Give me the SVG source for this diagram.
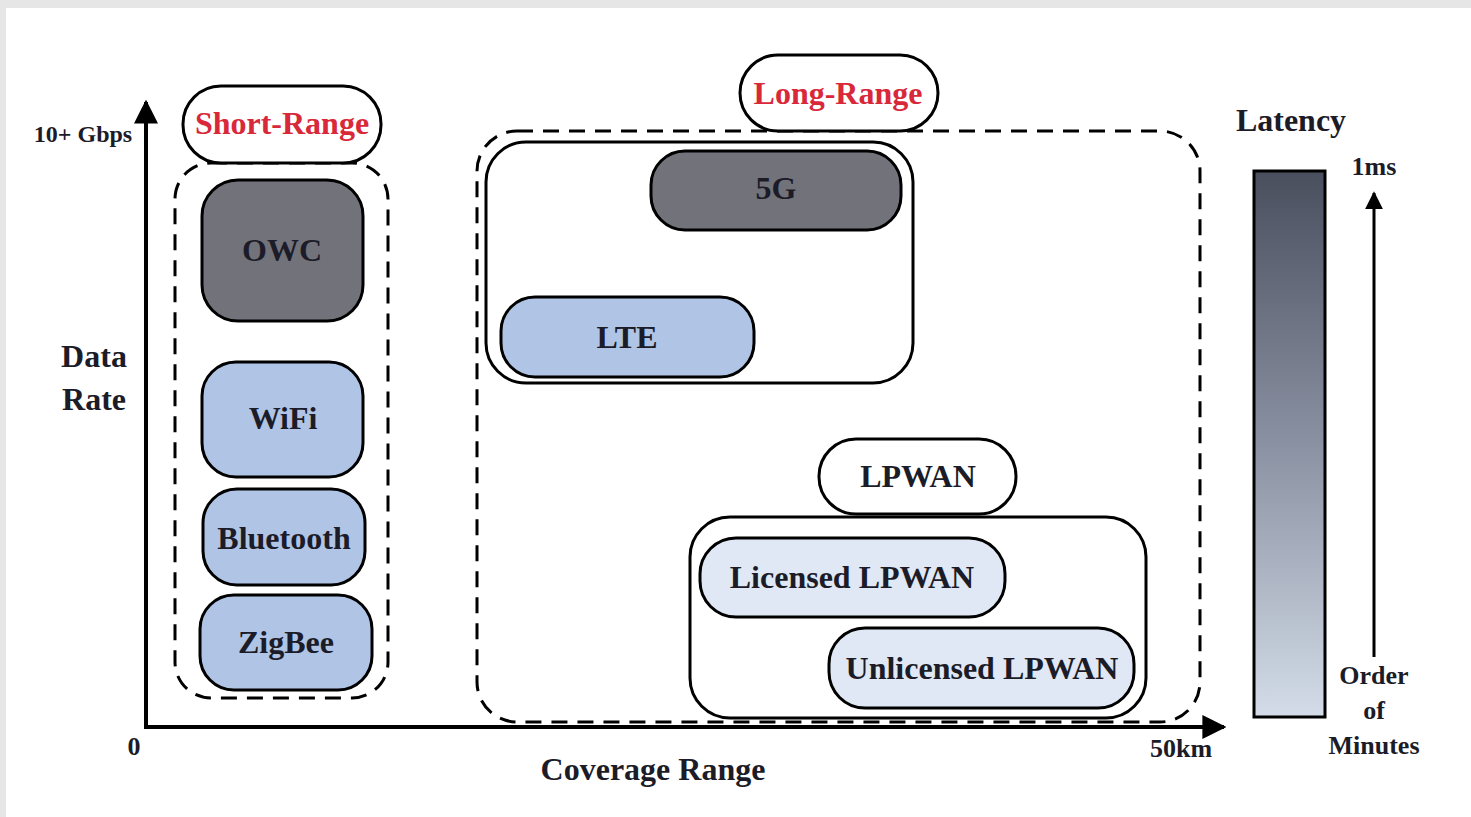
<svg xmlns="http://www.w3.org/2000/svg" width="1471" height="817" viewBox="0 0 1471 817">
<defs>
<linearGradient id="lat" x1="0" y1="0" x2="0" y2="1">
<stop offset="0" stop-color="#4a4f5e"/>
<stop offset="0.5" stop-color="#8a91a2"/>
<stop offset="1" stop-color="#d3dce8"/>
</linearGradient>
<marker id="ah" viewBox="0 0 10 10" refX="9" refY="5" markerWidth="6" markerHeight="6" markerUnits="strokeWidth" orient="auto">
<path d="M0,0 L10,5 L0,10 z" fill="#000"/>
</marker>
</defs>
<style>
text{font-family:"Liberation Serif","Times New Roman",serif;font-weight:bold;fill:#1c1c28;text-anchor:middle}
.red{fill:#d8283a}
.solid{fill:none;stroke:#000;stroke-width:3}
.dash{fill:none;stroke:#000;stroke-width:3;stroke-dasharray:16 10}
.pill{fill:#fff;stroke:#000;stroke-width:3}
.dark{fill:#72727a;stroke:#000;stroke-width:3}
.blue{fill:#b0c4e6;stroke:#000;stroke-width:3}
.light{fill:#dfe8f4;stroke:#000;stroke-width:3}
.t32{font-size:32px}
.t26{font-size:26px}
</style>
<rect x="0" y="0" width="1471" height="817" fill="#e6e6e6"/>
<rect x="6" y="8" width="1465" height="809" fill="#fff"/>

<g id="axes">
<line x1="146" y1="727" x2="146" y2="102" stroke="#000" stroke-width="4" marker-end="url(#ah)"/>
<line x1="144" y1="727" x2="1224" y2="727" stroke="#000" stroke-width="4" marker-end="url(#ah)"/>
<text x="83" y="142" style="font-size:24px">10+ Gbps</text>
<text x="134" y="755" class="t26">0</text>
<text x="1181" y="757" class="t26">50km</text>
<text x="653" y="780" class="t32">Coverage Range</text>
<text x="94" y="367" class="t32">Data</text>
<text x="94" y="410" class="t32">Rate</text>
</g>

<g id="short-range">
<rect x="175" y="163" width="213" height="535" rx="36" class="dash"/>
<rect x="183" y="86" width="198" height="77" rx="38" class="pill"/>
<text x="282" y="134" class="t32 red">Short-Range</text>
</g>
<g id="owc">
<rect x="202" y="180" width="161" height="141" rx="36" class="dark"/>
<text x="282" y="261" class="t32">OWC</text>
</g>
<g id="wifi">
<rect x="202" y="362" width="161" height="115" rx="34" class="blue"/>
<text x="283" y="429" class="t32">WiFi</text>
</g>
<g id="bluetooth">
<rect x="203" y="489" width="162" height="96" rx="34" class="blue"/>
<text x="284" y="549" class="t32">Bluetooth</text>
</g>
<g id="zigbee">
<rect x="200" y="595" width="172" height="95" rx="34" class="blue"/>
<text x="286" y="653" class="t32">ZigBee</text>
</g>

<g id="long-range">
<rect x="477" y="131" width="723" height="591" rx="40" class="dash"/>
<rect x="740" y="55" width="198" height="76" rx="38" class="pill"/>
<text x="838" y="104" class="t32 red">Long-Range</text>
</g>
<g id="cellular">
<rect x="486" y="142" width="427" height="241" rx="40" class="solid"/>
</g>
<g id="5g">
<rect x="651" y="151" width="250" height="79" rx="34" class="dark"/>
<text x="776" y="199" class="t32">5G</text>
</g>
<g id="lte">
<rect x="501" y="297" width="253" height="80" rx="34" class="blue"/>
<text x="627" y="348" class="t32">LTE</text>
</g>

<g id="lpwan">
<rect x="690" y="517" width="456" height="201" rx="40" class="solid"/>
<rect x="819" y="439" width="197" height="75" rx="37" class="pill"/>
<text x="918" y="487" class="t32">LPWAN</text>
</g>
<g id="licensed-lpwan">
<rect x="700" y="538" width="305" height="79" rx="36" class="light"/>
<text x="852" y="588" class="t32">Licensed LPWAN</text>
</g>
<g id="unlicensed-lpwan">
<rect x="829" y="628" width="305" height="80" rx="36" class="light"/>
<text x="982" y="679" class="t32">Unlicensed LPWAN</text>
</g>

<g id="latency">
<text x="1291" y="131" class="t32">Latency</text>
<rect x="1254" y="171" width="71" height="546" fill="url(#lat)" stroke="#000" stroke-width="3"/>
<line x1="1374" y1="657" x2="1374" y2="193" stroke="#000" stroke-width="3" marker-end="url(#ah)"/>
<text x="1374" y="175" class="t26">1ms</text>
<text x="1374" y="684" class="t26">Order</text>
<text x="1374" y="719" class="t26">of</text>
<text x="1374" y="754" class="t26">Minutes</text>
</g>
</svg>
